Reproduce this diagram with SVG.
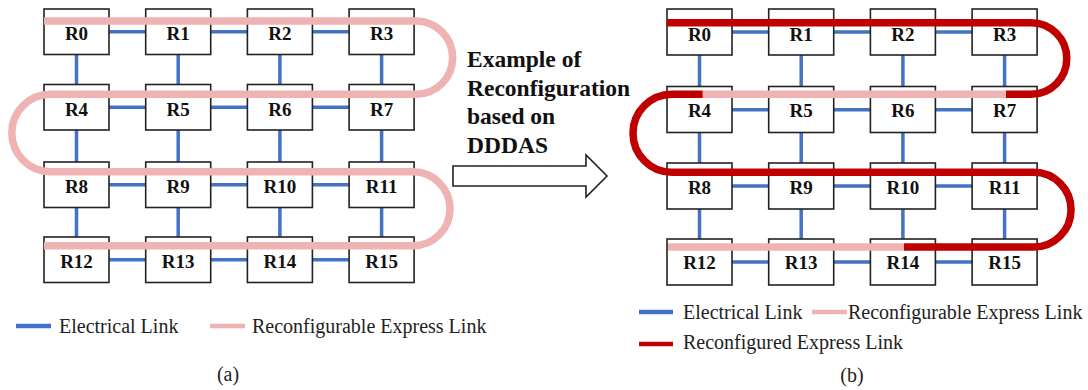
<svg xmlns="http://www.w3.org/2000/svg" width="1088" height="390" viewBox="0 0 1088 390">
  <style>
    .box { fill: #ffffff; stroke: #222222; stroke-width: 1.6; }
    .lbl { font-family: "Liberation Serif", "Times New Roman", serif; font-size: 19px; font-weight: bold; fill: #111111; text-anchor: middle; }
    .elec { stroke: #4472C4; stroke-width: 3.5; fill: none; }
    .expr { stroke: #F0B3B3; stroke-width: 7.5; fill: none; stroke-linecap: butt; }
    .conf { stroke: #C00000; stroke-width: 7.5; fill: none; stroke-linecap: butt; }
    .head { font-family: "Liberation Serif", "Times New Roman", serif; font-size: 23.5px; font-weight: bold; fill: #111111; }
    .leg { font-family: "Liberation Serif", "Times New Roman", serif; font-size: 20px; fill: #222222; }
    .legline { stroke-width: 4.5; fill: none; }
  </style>

  <!-- (a) electrical mesh links -->
  <g id="links-a">
    <path class="elec" d="M109,31.7 H146 M211,31.7 H247 M313,31.7 H349
                         M109,107.2 H146 M211,107.2 H247 M313,107.2 H349
                         M109,184.7 H146 M211,184.7 H247 M313,184.7 H349
                         M109,259.7 H146 M211,259.7 H247 M313,259.7 H349"/>
    <path class="elec" d="M76.5,54.5 V84.5 M178.2,54.5 V84.5 M279.9,54.5 V84.5 M381.6,54.5 V84.5
                         M76.5,130 V162 M178.2,130 V162 M279.9,130 V162 M381.6,130 V162
                         M76.5,207.5 V237 M178.2,207.5 V237 M279.9,207.5 V237 M381.6,207.5 V237"/>
  </g>

  <!-- (a) routers -->
  <g id="R0a"><rect class="box" x="44" y="9" width="65" height="45.5"/><text class="lbl" x="76.5" y="40">R0</text></g>
  <g id="R1a"><rect class="box" x="145.7" y="9" width="65" height="45.5"/><text class="lbl" x="178.2" y="40">R1</text></g>
  <g id="R2a"><rect class="box" x="247.4" y="9" width="65" height="45.5"/><text class="lbl" x="279.9" y="40">R2</text></g>
  <g id="R3a"><rect class="box" x="349.1" y="9" width="65" height="45.5"/><text class="lbl" x="381.6" y="40">R3</text></g>
  <g id="R4a"><rect class="box" x="44" y="84.5" width="65" height="45.5"/><text class="lbl" x="76.5" y="116">R4</text></g>
  <g id="R5a"><rect class="box" x="145.7" y="84.5" width="65" height="45.5"/><text class="lbl" x="178.2" y="116">R5</text></g>
  <g id="R6a"><rect class="box" x="247.4" y="84.5" width="65" height="45.5"/><text class="lbl" x="279.9" y="116">R6</text></g>
  <g id="R7a"><rect class="box" x="349.1" y="84.5" width="65" height="45.5"/><text class="lbl" x="381.6" y="116">R7</text></g>
  <g id="R8a"><rect class="box" x="44" y="162" width="65" height="45.5"/><text class="lbl" x="76.5" y="193">R8</text></g>
  <g id="R9a"><rect class="box" x="145.7" y="162" width="65" height="45.5"/><text class="lbl" x="178.2" y="193">R9</text></g>
  <g id="R10a"><rect class="box" x="247.4" y="162" width="65" height="45.5"/><text class="lbl" x="279.9" y="193">R10</text></g>
  <g id="R11a"><rect class="box" x="349.1" y="162" width="65" height="45.5"/><text class="lbl" x="381.6" y="193">R11</text></g>
  <g id="R12a"><rect class="box" x="44" y="237" width="65" height="45.5"/><text class="lbl" x="76.5" y="268">R12</text></g>
  <g id="R13a"><rect class="box" x="145.7" y="237" width="65" height="45.5"/><text class="lbl" x="178.2" y="268">R13</text></g>
  <g id="R14a"><rect class="box" x="247.4" y="237" width="65" height="45.5"/><text class="lbl" x="279.9" y="268">R14</text></g>
  <g id="R15a"><rect class="box" x="349.1" y="237" width="65" height="45.5"/><text class="lbl" x="381.6" y="268">R15</text></g>

  <!-- (a) reconfigurable express link, serpentine -->
  <g id="express-a">
    <path class="expr" d="M44,21 H416 A36.65,36.65 0 0 1 416,94.3 H50.5 A38.7,38.7 0 0 0 50.5,171.7 H413 A37,37 0 0 1 413,245.7 H44"/>
  </g>

  <!-- transition arrow and caption -->
  <g id="transition">
    <text class="head" x="467" y="66.7">Example of</text>
    <text class="head" x="467" y="95.5">Reconfiguration</text>
    <text class="head" x="467" y="124.3">based on</text>
    <text class="head" x="467" y="153">DDDAS</text>
    <polygon points="453,166 586,166 586,155 607,176 586,197 586,186 453,186" fill="#ffffff" stroke="#222222" stroke-width="1.6"/>
  </g>

  <!-- (b) electrical mesh links -->
  <g id="links-b">
    <path class="elec" d="M732,32 H768.7 M833.7,32 H870.4 M935.4,32 H972.1
                         M732,109.7 H768.7 M833.7,109.7 H870.4 M935.4,109.7 H972.1
                         M732,186 H768.7 M833.7,186 H870.4 M935.4,186 H972.1
                         M732,262 H768.7 M833.7,262 H870.4 M935.4,262 H972.1"/>
    <path class="elec" d="M699.5,55 V86.5 M801.2,55 V86.5 M902.9,55 V86.5 M1004.6,55 V86.5
                         M699.5,132.5 V163 M801.2,132.5 V163 M902.9,132.5 V163 M1004.6,132.5 V163
                         M699.5,209 V239 M801.2,209 V239 M902.9,209 V239 M1004.6,209 V239"/>
  </g>

  <!-- (b) routers -->
  <g id="R0b"><rect class="box" x="667" y="9" width="65" height="46"/><text class="lbl" x="699.5" y="40.5">R0</text></g>
  <g id="R1b"><rect class="box" x="768.7" y="9" width="65" height="46"/><text class="lbl" x="801.2" y="40.5">R1</text></g>
  <g id="R2b"><rect class="box" x="870.4" y="9" width="65" height="46"/><text class="lbl" x="902.9" y="40.5">R2</text></g>
  <g id="R3b"><rect class="box" x="972.1" y="9" width="65" height="46"/><text class="lbl" x="1004.6" y="40.5">R3</text></g>
  <g id="R4b"><rect class="box" x="667" y="86.5" width="65" height="46"/><text class="lbl" x="699.5" y="117">R4</text></g>
  <g id="R5b"><rect class="box" x="768.7" y="86.5" width="65" height="46"/><text class="lbl" x="801.2" y="117">R5</text></g>
  <g id="R6b"><rect class="box" x="870.4" y="86.5" width="65" height="46"/><text class="lbl" x="902.9" y="117">R6</text></g>
  <g id="R7b"><rect class="box" x="972.1" y="86.5" width="65" height="46"/><text class="lbl" x="1004.6" y="117">R7</text></g>
  <g id="R8b"><rect class="box" x="667" y="163" width="65" height="46"/><text class="lbl" x="699.5" y="193.5">R8</text></g>
  <g id="R9b"><rect class="box" x="768.7" y="163" width="65" height="46"/><text class="lbl" x="801.2" y="193.5">R9</text></g>
  <g id="R10b"><rect class="box" x="870.4" y="163" width="65" height="46"/><text class="lbl" x="902.9" y="193.5">R10</text></g>
  <g id="R11b"><rect class="box" x="972.1" y="163" width="65" height="46"/><text class="lbl" x="1004.6" y="193.5">R11</text></g>
  <g id="R12b"><rect class="box" x="667" y="239" width="65" height="46"/><text class="lbl" x="699.5" y="268.5">R12</text></g>
  <g id="R13b"><rect class="box" x="768.7" y="239" width="65" height="46"/><text class="lbl" x="801.2" y="268.5">R13</text></g>
  <g id="R14b"><rect class="box" x="870.4" y="239" width="65" height="46"/><text class="lbl" x="902.9" y="268.5">R14</text></g>
  <g id="R15b"><rect class="box" x="972.1" y="239" width="65" height="46"/><text class="lbl" x="1004.6" y="268.5">R15</text></g>

  <!-- (b) express link: unused spans stay pink, active spans turn red -->
  <g id="express-b">
    <path class="expr" d="M1006,94.3 H702.7"/>
    <path class="expr" d="M904,247 H668"/>
    <path class="conf" d="M667,22.7 H1031 A35.8,35.8 0 0 1 1031,94.3 H1006"/>
    <path class="conf" d="M702.7,94.3 H672 A39,39 0 0 0 672,172.3 H1033.7 A37.35,37.35 0 0 1 1033.7,247 H904"/>
  </g>

  <!-- legends -->
  <g id="legend-a">
    <line class="legline" x1="16" y1="326" x2="51" y2="326" stroke="#4472C4"/>
    <text class="leg" x="59" y="332.7">Electrical Link</text>
    <line class="legline" x1="210" y1="326" x2="245" y2="326" stroke="#F0B3B3"/>
    <text class="leg" x="252" y="332.7">Reconfigurable Express Link</text>
  </g>
  <g id="legend-b">
    <line class="legline" x1="639" y1="312" x2="673" y2="312" stroke="#4472C4"/>
    <text class="leg" x="683" y="319">Electrical Link</text>
    <line class="legline" x1="812" y1="312" x2="847" y2="312" stroke="#F0B3B3"/>
    <text class="leg" x="848" y="319">Reconfigurable Express Link</text>
    <line class="legline" x1="639" y1="344" x2="673" y2="344" stroke="#C00000"/>
    <text class="leg" x="683" y="349.3">Reconfigured Express Link</text>
  </g>

  <!-- sub-figure captions -->
  <text class="leg" x="228" y="381" text-anchor="middle">(a)</text>
  <text class="leg" x="852" y="381.5" text-anchor="middle">(b)</text>
</svg>
